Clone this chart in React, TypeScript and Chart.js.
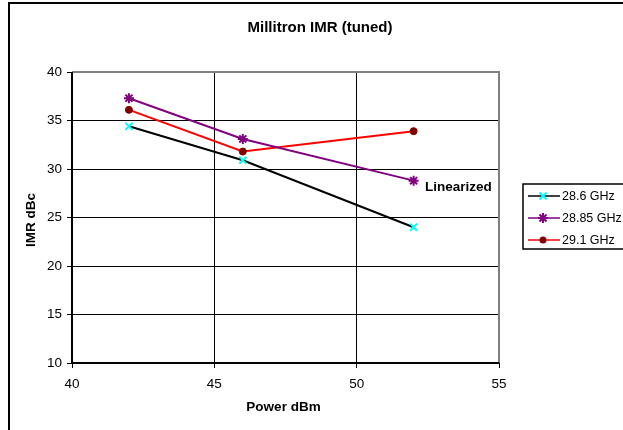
import React, { useEffect, useRef } from "react";
import { Chart, registerables } from "chart.js";

Chart.register(...registerables);

const chartTitle = "Millitron IMR (tuned)";
const xTitle = "Power dBm";
const yTitle = "IMR dBc";
const annotationText = "Linearized";
const powers = [42, 46, 52];
const seriesNames = ["28.6 GHz", "28.85 GHz", "29.1 GHz"];
const imr286 = [34.4, 30.9, 24.0];
const imr2885 = [37.3, 33.1, 28.8];
const imr291 = [36.1, 31.8, 33.9];

const FONT = "'Liberation Sans', Arial, sans-serif";

function drawMarker(ctx: CanvasRenderingContext2D, style: string, x: number, y: number, r: number, color: string, lw: number) {
  ctx.save();
  ctx.strokeStyle = color;
  ctx.fillStyle = color;
  ctx.lineWidth = lw;
  ctx.beginPath();
  if (style === "circle") {
    ctx.arc(x, y, r, 0, Math.PI * 2);
    ctx.fill();
  } else if (style === "crossRot") {
    const d = r * Math.SQRT1_2;
    ctx.moveTo(x - d, y - d); ctx.lineTo(x + d, y + d);
    ctx.moveTo(x - d, y + d); ctx.lineTo(x + d, y - d);
    ctx.stroke();
  } else {
    const d = r * Math.SQRT1_2;
    ctx.moveTo(x - d, y - d); ctx.lineTo(x + d, y + d);
    ctx.moveTo(x - d, y + d); ctx.lineTo(x + d, y - d);
    ctx.moveTo(x, y - r); ctx.lineTo(x, y + r);
    ctx.moveTo(x - r, y); ctx.lineTo(x + r, y);
    ctx.stroke();
  }
  ctx.restore();
}

const decorPlugin = {
  id: "decor",
  beforeDraw(chart: any) {
    const ctx = chart.ctx;
    ctx.save();
    ctx.fillStyle = "#ffffff";
    ctx.fillRect(0, 0, chart.width, chart.height);
    ctx.strokeStyle = "#000000";
    ctx.lineWidth = 2;
    ctx.beginPath();
    ctx.moveTo(9, 430);
    ctx.lineTo(9, 3);
    ctx.lineTo(623, 3);
    ctx.stroke();
    ctx.restore();
  },
  afterDatasetsDraw(chart: any) {
    const ctx = chart.ctx;
    const a = chart.chartArea;
    ctx.save();
    ctx.strokeStyle = "#808080";
    ctx.lineWidth = 2;
    ctx.beginPath();
    ctx.moveTo(a.left, a.top);
    ctx.lineTo(a.right, a.top);
    ctx.lineTo(a.right, a.bottom);
    ctx.stroke();
    ctx.strokeStyle = "#000000";
    ctx.lineWidth = 2;
    ctx.beginPath();
    ctx.moveTo(a.left, a.top);
    ctx.lineTo(a.left, a.bottom);
    ctx.lineTo(a.right, a.bottom);
    ctx.stroke();

    ctx.fillStyle = "#000000";
    ctx.textAlign = "center";
    ctx.textBaseline = "middle";
    ctx.font = `bold 15px ${FONT}`;
    ctx.fillText(chartTitle, 320, 28);
    ctx.font = `bold 13.5px ${FONT}`;
    ctx.fillText(xTitle, (a.left + a.right) / 2 - 2, 407);
    ctx.save();
    ctx.translate(31, 220);
    ctx.rotate(-Math.PI / 2);
    ctx.fillText(yTitle, 0, 0);
    ctx.restore();

    ctx.textAlign = "left";
    ctx.font = `bold 13.5px ${FONT}`;
    ctx.fillText(annotationText, 425, 187);

    ctx.strokeStyle = "#000000";
    ctx.lineWidth = 1.5;
    ctx.strokeRect(523, 184, 120, 65);
    const rows = [196, 218, 240];
    chart.data.datasets.forEach((ds: any, i: number) => {
      const y = rows[i];
      ctx.strokeStyle = ds.borderColor;
      ctx.lineWidth = 1.5;
      ctx.beginPath();
      ctx.moveTo(528, y);
      ctx.lineTo(560, y);
      ctx.stroke();
      drawMarker(ctx, ds.pointStyle, 543, y, ds.pointRadius, ds.pointBorderColor, ds.pointBorderWidth);
      ctx.fillStyle = "#000000";
      ctx.font = `12.5px ${FONT}`;
      ctx.textAlign = "left";
      ctx.textBaseline = "middle";
      ctx.fillText(ds.label, 562, y + 0.5);
    });
    ctx.restore();
  },
};

export default function App() {
  const ref = useRef<HTMLCanvasElement | null>(null);
  useEffect(() => {
    if (!ref.current) return;
    const mk = (ys: number[]) => powers.map((x, i) => ({ x, y: ys[i] }));
    const chart = new Chart(ref.current, {
      type: "line",
      data: {
        datasets: [
          {
            label: seriesNames[0],
            data: mk(imr286),
            borderColor: "#000000",
            borderWidth: 2,
            pointStyle: "crossRot",
            pointRadius: 5,
            pointBorderColor: "#00FFFF",
            pointBackgroundColor: "#00FFFF",
            pointBorderWidth: 2,
          },
          {
            label: seriesNames[1],
            data: mk(imr2885),
            borderColor: "#800080",
            borderWidth: 2,
            pointStyle: "star",
            pointRadius: 5,
            pointBorderColor: "#800080",
            pointBackgroundColor: "#800080",
            pointBorderWidth: 2,
          },
          {
            label: seriesNames[2],
            data: mk(imr291),
            borderColor: "#FF0000",
            borderWidth: 2,
            pointStyle: "circle",
            pointRadius: 3.5,
            pointBorderColor: "#800000",
            pointBackgroundColor: "#800000",
            pointBorderWidth: 1,
          },
        ],
      } as any,
      options: {
        animation: false,
        responsive: false,
        devicePixelRatio: 1,
        layout: { padding: { left: 0, top: 72, right: 124, bottom: 0 } },
        plugins: { legend: { display: false }, tooltip: { enabled: false }, title: { display: false } },
        elements: { line: { tension: 0 } },
        scales: {
          x: {
            type: "linear",
            min: 40,
            max: 55,
            ticks: { stepSize: 5, color: "#000000", font: { family: FONT, size: 13.5 }, padding: 8 },
            grid: {
              color: (c: any) => (c.tick && (c.tick.value === 40 || c.tick.value === 55) ? "rgba(0,0,0,0)" : "#000000"),
              tickColor: "#000000",
              tickLength: 5,
              lineWidth: 1,
            },
            border: { display: false },
            afterFit: (s: any) => { s.height = 67; },
          },
          y: {
            type: "linear",
            min: 10,
            max: 40,
            ticks: { stepSize: 5, color: "#000000", font: { family: FONT, size: 13.5 }, padding: 5 },
            grid: {
              color: (c: any) => (c.tick && (c.tick.value === 10 || c.tick.value === 40) ? "rgba(0,0,0,0)" : "#000000"),
              tickColor: "#000000",
              tickLength: 5,
              lineWidth: 1,
            },
            border: { display: false },
            afterFit: (s: any) => { s.width = 72; },
          },
        },
      } as any,
      plugins: [decorPlugin],
    });
    return () => chart.destroy();
  }, []);
  return (
    <div style={{ position: "absolute", left: 0, top: 0, width: 623, height: 430 }}>
      <canvas ref={ref} width={623} height={430} style={{ width: 623, height: 430, display: "block" }} />
    </div>
  );
}
